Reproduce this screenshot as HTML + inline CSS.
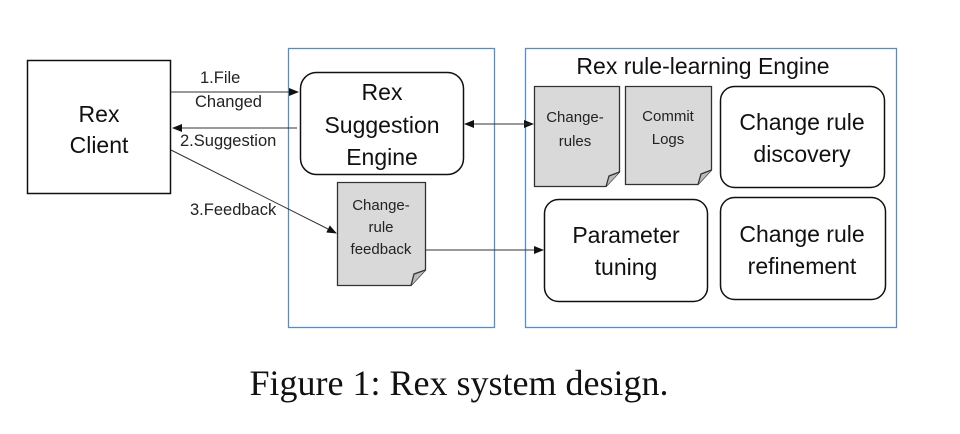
<!DOCTYPE html>
<html><head><style>body{margin:0;background:#fff}</style></head><body>
<svg width="960" height="429" viewBox="0 0 960 429" xmlns="http://www.w3.org/2000/svg" font-family="'Liberation Sans', sans-serif">
<defs><marker id="a" markerWidth="10" markerHeight="8" refX="9" refY="4" orient="auto" markerUnits="userSpaceOnUse"><path d="M0,0 L10,4 L0,8z" fill="#111"/></marker></defs>
<rect x="27.5" y="60.5" width="143" height="133" fill="#fff" stroke="#111" stroke-width="1.5"/>
<text x="99" y="122" font-size="23" text-anchor="middle" fill="#111">Rex</text>
<text x="99" y="153" font-size="23" text-anchor="middle" fill="#111">Client</text>
<rect x="288.5" y="48.5" width="206" height="279" fill="none" stroke="#5b8cc0" stroke-width="1.3"/>
<rect x="525.5" y="48.5" width="371" height="279" fill="none" stroke="#5b8cc0" stroke-width="1.3"/>
<rect x="300.5" y="72.5" width="163" height="102" rx="16" fill="#fff" stroke="#111" stroke-width="1.5"/>
<text x="382" y="100" font-size="23" text-anchor="middle" fill="#111">Rex</text>
<text x="382" y="133" font-size="23" text-anchor="middle" fill="#111">Suggestion</text>
<text x="382" y="165" font-size="23" text-anchor="middle" fill="#111">Engine</text>
<g stroke="#333" stroke-width="1.3">
<path d="M337.5,182.5 H425.5 V270 L411,285.5 H337.5 Z" fill="#d9d9d9"/>
<path d="M411,285.5 L414,274 L425.5,270" fill="#bbb"/>
<path d="M534.5,86.5 H619.5 V172 L606,186.5 H534.5 Z" fill="#d9d9d9"/>
<path d="M606,186.5 L609,176 L619.5,172" fill="#bbb"/>
<path d="M625.5,86.5 H711.5 V170 L698,184.5 H625.5 Z" fill="#d9d9d9"/>
<path d="M698,184.5 L701,174 L711.5,170" fill="#bbb"/>
</g>
<g font-size="15" text-anchor="middle" fill="#222">
<text x="381" y="210">Change-</text><text x="381" y="232">rule</text><text x="381" y="254">feedback</text>
<text x="575" y="122">Change-</text><text x="575" y="146">rules</text>
<text x="668" y="121">Commit</text><text x="668" y="144">Logs</text>
</g>
<rect x="720.5" y="86.5" width="164" height="101" rx="14" fill="#fff" stroke="#111" stroke-width="1.5"/>
<rect x="544.5" y="199.5" width="163" height="102" rx="14" fill="#fff" stroke="#111" stroke-width="1.5"/>
<rect x="720.5" y="197.5" width="165" height="102" rx="14" fill="#fff" stroke="#111" stroke-width="1.5"/>
<g font-size="23" text-anchor="middle" fill="#111">
<text x="703" y="74">Rex rule-learning Engine</text>
<text x="802" y="130">Change rule</text><text x="802" y="162">discovery</text>
<text x="626" y="243">Parameter</text><text x="626" y="275">tuning</text>
<text x="802" y="242">Change rule</text><text x="802" y="274">refinement</text>
</g>
<g stroke="#333" stroke-width="1" fill="none">
<line x1="171" y1="92" x2="298" y2="92" marker-end="url(#a)"/>
<line x1="297" y1="128" x2="173" y2="128" marker-end="url(#a)"/>
<line x1="171" y1="150" x2="336" y2="233" marker-end="url(#a)"/>
<line x1="470" y1="124" x2="533" y2="124" marker-end="url(#a)"/>
<line x1="530" y1="124" x2="465" y2="124" marker-end="url(#a)"/>
<line x1="426" y1="250" x2="543" y2="250" marker-end="url(#a)"/>
</g>
<g font-size="16.5" fill="#222">
<text x="200" y="83">1.File</text>
<text x="195" y="107">Changed</text>
<text x="180" y="146">2.Suggestion</text>
<text x="190" y="215">3.Feedback</text>
</g>
<text x="459" y="395" font-family="'Liberation Serif', serif" font-size="36" text-anchor="middle" fill="#111">Figure 1: Rex system design.</text>
</svg>
</body></html>
